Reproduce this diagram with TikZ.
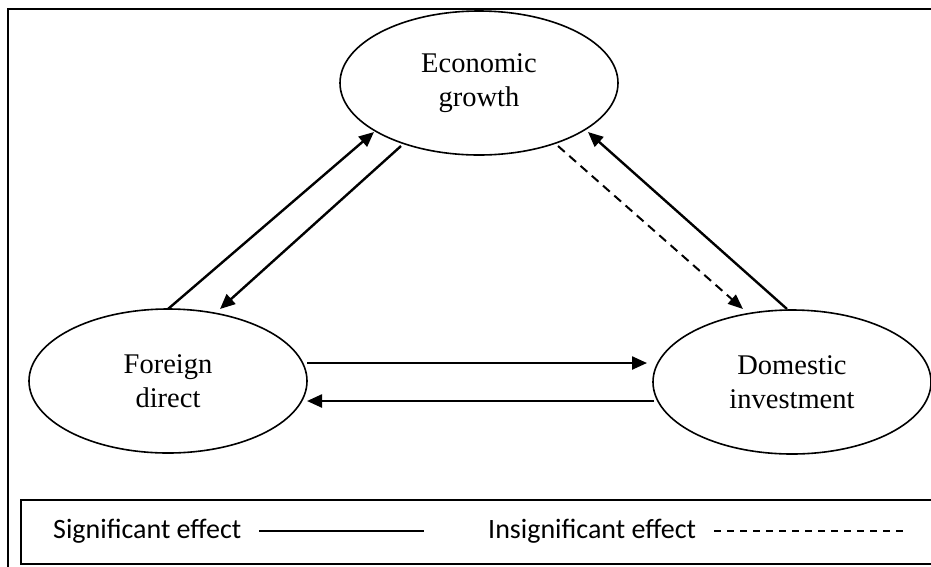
\documentclass[tikz,border=0pt]{standalone}
\usepackage{fontspec}
\setmainfont{Liberation Serif}
\newfontfamily\legendfont{Carlito}
\usetikzlibrary{shapes.geometric,arrows.meta,calc}
\begin{document}
\begin{tikzpicture}[x=1pt,y=-1pt,
  var/.style={draw,ellipse,line width=1.6pt,minimum width=278pt,minimum height=144pt,inner sep=0pt,align=center,font=\fontsize{28.5}{34}\selectfont},
  conn/.style={line width=2.4pt,-{Triangle[length=15pt,width=13pt]}},
  dconn/.style={line width=2pt,dash pattern=on 9pt off 6pt,-{Triangle[length=15pt,width=12pt]}},
  legtext/.style={anchor=base west,inner sep=0pt,font=\legendfont\fontsize{28}{32}\selectfont},
  frameline/.style={line width=2.2pt},
]
\useasboundingbox (0,0) rectangle (931,566);
\draw[frameline] (8,575) -- (8,9) -- (940,9);
\draw[line width=2pt] (21,500) rectangle (940,564);

\node[var] (eg) at (479,83) {Economic\\growth};
\node[var] (fdi) at (168,381) {Foreign\\direct};
\node[var] (di) at (792,382) {Domestic\\investment};

\draw[conn] ($(fdi)+(0,-72)$) -- ($(eg)+(-105,49)$);
\draw[conn] ($(eg)+(-78,63)$) -- ($(fdi)+(52,-72)$);
\draw[dconn] ($(eg)+(79,63)$) -- ($(di)+(-49,-73)$);
\draw[conn] ($(di)+(-5,-73)$) -- ($(eg)+(109,49)$);
\draw[conn] ($(fdi)+(139,-18)$) -- ($(di)+(-145,-19)$);
\draw[conn] ($(di)+(-138,19)$) -- ($(fdi)+(139,20)$);

\node[legtext] (sig) at (53,538) {Significant effect};
\coordinate (s1) at (259,531);
\coordinate (s2) at (424,531);
\draw[line width=1.8pt] (s1) -- (s2);
\node[legtext] (insig) at (488,538) {Insignificant effect};
\coordinate (d1) at (714,531);
\coordinate (d2) at (909,531);
\draw[line width=1.6pt,dash pattern=on 7pt off 6pt] (d1) -- (d2);
\end{tikzpicture}
\end{document}
